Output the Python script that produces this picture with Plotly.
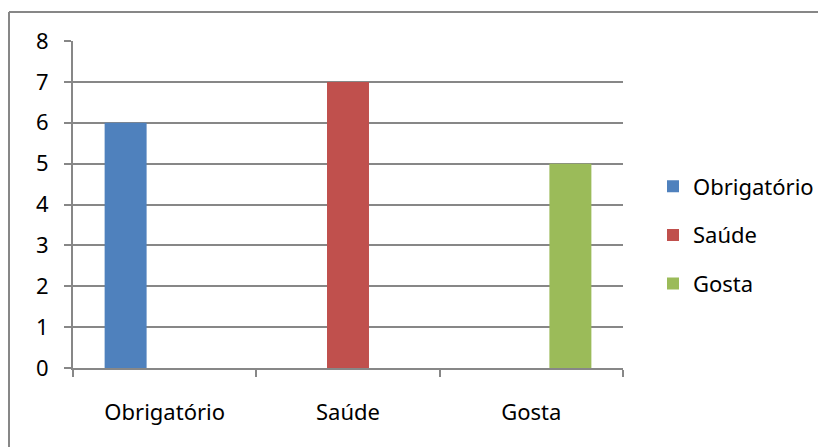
import plotly.graph_objects as go

categories = ["Obrigatório", "Saúde", "Gosta"]
series_names = ["Obrigatório", "Saúde", "Gosta"]
series_values = {
    "Obrigatório": [6, 0, 0],
    "Saúde": [0, 7, 0],
    "Gosta": [0, 0, 5],
}
series_colors = {"Obrigatório": "#4F81BD", "Saúde": "#C0504D", "Gosta": "#9BBB59"}
y_ticks = [0, 1, 2, 3, 4, 5, 6, 7, 8]

# The page body adds an 8px margin, so the figure is drawn 8px smaller and
# all reference pixel positions are shifted by that offset.
OFF = 8
W, H = 826 - OFF, 447 - OFF
L, R, T, B = 73 - OFF, 203, 41 - OFF, 79
pw, ph = W - L - R, H - T - B

def px_x(p):
    return (p - OFF - L) / pw

def px_y(p):
    return (H - B - (p - OFF)) / ph

FONT = "Noto Sans"
grid = "#878787"
bar_w = 0.229
bar_offsets = [-0.213, 0.0, 0.213]

fig = go.Figure()
for i, name in enumerate(series_names):
    fig.add_trace(go.Bar(
        x=categories, y=series_values[name], name=name,
        marker=dict(color=series_colors[name], line=dict(width=0)),
        width=bar_w, offset=bar_offsets[i] - bar_w / 2,
        legendgroup=f"g{i}",
    ))

fig.update_layout(
    width=W, height=H,
    margin=dict(l=L, r=R, t=T, b=B, autoexpand=False),
    paper_bgcolor="white", plot_bgcolor="white",
    barmode="overlay",
    font=dict(family=FONT, size=22, color="black"),
    legend=dict(x=px_x(653), xanchor="left", y=px_y(235), yanchor="middle",
                tracegroupgap=17, font=dict(size=22), bgcolor="rgba(0,0,0,0)"),
    showlegend=True,
    xaxis=dict(
        type="category", tickson="boundaries", ticks="outside", ticklen=7,
        tickcolor=grid, tickwidth=2, showline=True, linecolor=grid, linewidth=2,
        showgrid=False, ticklabelstandoff=24, range=[-0.5, 2.5],
    ),
    yaxis=dict(
        range=[0, 8], tickvals=y_ticks, ticks="outside", ticklen=7,
        tickcolor=grid, tickwidth=2, showline=True, linecolor=grid, linewidth=2,
        showgrid=True, gridcolor=grid, gridwidth=2, zeroline=False,
        ticklabelstandoff=11,
    ),
    shapes=[
        dict(type="line", xref="paper", yref="paper", x0=px_x(9), x1=px_x(9),
             y0=px_y(12), y1=px_y(470), line=dict(color=grid, width=2)),
        dict(type="line", xref="paper", yref="paper", x0=px_x(9), x1=px_x(850),
             y0=px_y(12), y1=px_y(12), line=dict(color=grid, width=2)),
    ],
)

fig.write_html("out.html")
